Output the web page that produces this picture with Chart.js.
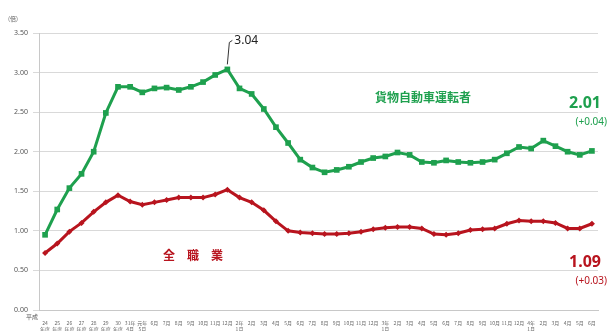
<!DOCTYPE html>
<html>
<head>
<meta charset="utf-8">
<script src="https://cdn.jsdelivr.net/npm/chart.js@4/dist/chart.umd.min.js"></script>
<style>
  html, body { margin: 0; padding: 0; background: #fff; }
  #wrap { width: 607px; height: 331px; position: relative; }
</style>
</head>
<body>
<div id="wrap"><canvas id="c"></canvas></div>
<script>
// x labels: 平成24年度..30年度, then monthly to 令和4年6月
const yearLabels = [['24','年度'],['25','年度'],['26','年度'],['27','年度'],['28','年度'],['29','年度'],['30','年度']];
const monthLabels = [
  ['31年','4月'], ['元年','5月'], '6月','7月','8月','9月','10月','11月','12月',
  ['2年','1月'], '2月','3月','4月','5月','6月','7月','8月','9月','10月','11月','12月',
  ['3年','1月'], '2月','3月','4月','5月','6月','7月','8月','9月','10月','11月','12月',
  ['4年','1月'], '2月','3月','4月','5月','6月'
];
const labels = yearLabels.concat(monthLabels);

// 貨物自動車運転者
const truckDrivers = [0.95, 1.27, 1.54, 1.72, 2.00, 2.49, 2.82, 2.82, 2.75, 2.80,
  2.81, 2.78, 2.82, 2.88, 2.97, 3.04, 2.80, 2.73, 2.54, 2.31,
  2.11, 1.90, 1.80, 1.74, 1.77, 1.81, 1.87, 1.92, 1.94, 1.99,
  1.96, 1.87, 1.86, 1.89, 1.87, 1.86, 1.87, 1.90, 1.98, 2.06,
  2.04, 2.14, 2.07, 2.00, 1.96, 2.01];

// 全職業
const allJobs = [0.72, 0.84, 0.99, 1.10, 1.24, 1.36, 1.45, 1.37, 1.33, 1.36,
  1.39, 1.42, 1.42, 1.42, 1.46, 1.52, 1.42, 1.36, 1.26, 1.12,
  1.00, 0.98, 0.97, 0.96, 0.96, 0.97, 0.99, 1.02, 1.04, 1.05,
  1.05, 1.03, 0.96, 0.95, 0.97, 1.01, 1.02, 1.03, 1.09, 1.13,
  1.12, 1.12, 1.10, 1.03, 1.03, 1.09];

const GREEN = '#1ea04e';
const RED = '#b8141e';
const JP = '"Noto Sans CJK JP", "Noto Sans", sans-serif';
const NUM = '"Noto Sans", "Liberation Sans", sans-serif';

const notes = {
  id: 'notes',
  afterDraw(chart) {
    const c = chart.ctx;
    const x = chart.scales.x, y = chart.scales.y;
    c.save();
    // unit
    c.fillStyle = '#666';
    c.font = '6px ' + JP;
    c.textAlign = 'left';
    c.textBaseline = 'middle';
    c.fillText('(倍)', 8, 19);
    // 平成
    c.fillStyle = '#555';
    c.textAlign = 'right';
    c.fillText('平成', x.getPixelForValue(0) - 7, 317);

    // peak label
    const peakIdx = truckDrivers.indexOf(Math.max(...truckDrivers));
    const px = x.getPixelForValue(peakIdx);
    const py = y.getPixelForValue(truckDrivers[peakIdx]);
    c.strokeStyle = '#333';
    c.lineWidth = 1;
    c.beginPath();
    c.moveTo(px, py - 5);
    c.lineTo(px + 2, py - 27);
    c.lineTo(px + 5, py - 29);
    c.stroke();
    c.fillStyle = '#222';
    c.font = '12px ' + NUM;
    c.textAlign = 'left';
    c.fillText(truckDrivers[peakIdx].toFixed(2), px + 7, py - 29);

    // series names
    c.font = 'bold 12px ' + JP;
    c.fillStyle = GREEN;
    c.textAlign = 'center';
    c.fillText('貨物自動車運転者', 423, 97);
    c.fillStyle = RED;
    c.fillText('全　職　業', 193, 255);

    // last values
    const lastIdx = labels.length - 1;
    c.textAlign = 'right';
    c.fillStyle = GREEN;
    c.font = 'bold 16px ' + NUM;
    c.fillText(truckDrivers[lastIdx].toFixed(2), 601, 103);
    c.font = '10px ' + NUM;
    c.fillText('(+0.04)', 607, 122);
    c.fillStyle = RED;
    c.font = 'bold 16px ' + NUM;
    c.fillText(allJobs[lastIdx].toFixed(2), 601, 262);
    c.font = '10px ' + NUM;
    c.fillText('(+0.03)', 607, 281);
    c.restore();
  }
};

new Chart(document.getElementById('c'), {
  type: 'line',
  data: {
    labels: labels,
    datasets: [{
      label: '貨物自動車運転者',
      data: truckDrivers,
      borderColor: GREEN,
      backgroundColor: GREEN,
      borderWidth: 3,
      pointStyle: 'rect',
      pointRadius: 4,
      pointBorderWidth: 0,
      tension: 0
    }, {
      label: '全職業',
      data: allJobs,
      borderColor: RED,
      backgroundColor: RED,
      borderWidth: 3,
      pointStyle: 'rectRot',
      pointRadius: 3,
      pointBorderWidth: 0,
      tension: 0
    }]
  },
  options: {
    responsive: true,
    maintainAspectRatio: false,
    animation: false,
    layout: { padding: { top: 33, right: 9, left: 0, bottom: 0 } },
    plugins: {
      legend: { display: false },
      tooltip: { enabled: false }
    },
    scales: {
      x: {
        offset: true,
        afterFit(scale) { scale.height = 21; },
        grid: { display: false },
        border: { display: true, color: '#c8c8c8' },
        ticks: {
          autoSkip: false,
          maxRotation: 0,
          minRotation: 0,
          padding: 2,
          color: '#666',
          font: { size: 5, family: JP, lineHeight: 1.2 }
        }
      },
      y: {
        min: 0,
        max: 3.5,
        afterFit(scale) { scale.width = 39; },
        grid: { color: '#d9d9d9', tickLength: 6, lineWidth: 1 },
        border: { display: true, color: '#c8c8c8' },
        ticks: {
          stepSize: 0.5,
          padding: 5,
          color: '#555',
          font: { size: 7, family: NUM },
          callback: (v) => v.toFixed(2)
        }
      }
    }
  },
  plugins: [notes]
});
</script>
</body>
</html>
